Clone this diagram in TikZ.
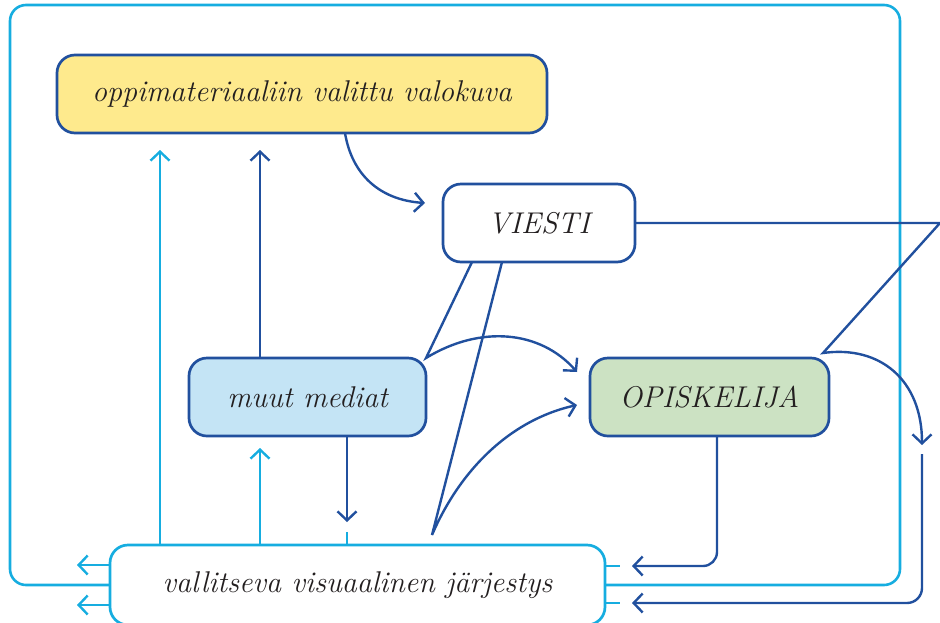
\documentclass[tikz,border=0pt]{standalone}
\usepackage{tikz}
\usetikzlibrary{arrows.meta}
\definecolor{tummasini}{RGB}{33,80,158}
\definecolor{syaani}{RGB}{22,173,224}
\definecolor{keltainen}{RGB}{254,234,141}
\definecolor{vaaleansini}{RGB}{196,228,245}
\definecolor{vihrea}{RGB}{204,226,195}
\definecolor{teksti}{RGB}{35,31,32}

\begin{document}
\begin{tikzpicture}[x=1pt,y=-1pt,
  laatikko/.style={draw=tummasini,line width=2.7pt,rounded corners=18pt,minimum height=78pt,outer sep=0pt,text=teksti,font=\fontsize{30}{35}\selectfont\itshape},
  tumma/.style={draw=tummasini,line width=2.4pt,-{Straight Barb[length=9pt,width=19pt]}},
  vaalea/.style={draw=syaani,line width=2.4pt,-{Straight Barb[length=9pt,width=19pt]}}]
\useasboundingbox (0,0) rectangle (940,622);
\draw[syaani,line width=2.6pt,rounded corners=16pt] (10,5) rectangle (900,585);

\node[laatikko,fill=keltainen,minimum width=490pt] (valokuva) at (302,94) {oppimateriaaliin valittu valokuva};
\node[laatikko,fill=white,minimum width=192pt] (viesti) at (539,223) {VIESTI};
\node[laatikko,fill=vaaleansini,minimum width=237pt] (mediat) at (307.5,397) {muut mediat};
\node[laatikko,fill=vihrea,minimum width=239pt] (opiskelija) at (709.5,397) {OPISKELIJA};
\node[laatikko,draw=syaani,fill=white,minimum width=495pt,minimum height=80pt] (jarjestys) at (357.5,585) {vallitseva visuaalinen järjestys};
\coordinate (kulma) at (940,223);
\coordinate (pudotus) at (922,445);

\draw[tumma] ([xshift=43pt]valokuva.south) .. controls (352,175) and (380,200) .. ([xshift=-18pt,yshift=20pt]viesti.west);
\draw[vaalea] ([xshift=50pt]jarjestys.north west) -- ++(0,-395);
\draw[tumma] ([xshift=-47.5pt]mediat.north) -- ++(0,-208);
\draw[vaalea] ([xshift=150pt]jarjestys.north west) -- ([xshift=-47.5pt,yshift=-12pt]mediat.south);
\draw[tumma] ([xshift=39.5pt]mediat.south) -- ++(0,86);
\draw[vaalea,-] ([xshift=-10.5pt]jarjestys.north) -- ++(0,-13);

\draw[tumma] ([xshift=-67pt]viesti.south) -- (mediat.north east) .. controls (480,325) and (540,330) .. ([xshift=-13pt,yshift=25pt]opiskelija.west);
\draw[tumma] ([xshift=-37pt]viesti.south) -- ([xshift=74.5pt,yshift=10pt]jarjestys.north) .. controls (460,470) and (510,420) .. ([xshift=-13pt,yshift=-8pt]opiskelija.west);
\draw[tumma] (viesti.east) -- (kulma) -- ([xshift=-6pt,yshift=5pt]opiskelija.north east) .. controls (880,345) and (922,380) .. (pudotus);
\draw[tumma,rounded corners=15pt] ([yshift=-9pt]pudotus) |- ([xshift=27pt,yshift=-18pt]jarjestys.east);
\draw[tumma,rounded corners=14pt] ([xshift=7.5pt]opiskelija.south) |- ([xshift=27pt,yshift=19pt]jarjestys.east);

\draw[vaalea,-] ([yshift=19pt]jarjestys.east) -- ++(15,0);
\draw[vaalea,-] ([yshift=-18pt]jarjestys.east) -- ++(15,0);
\draw[vaalea] ([yshift=20pt]jarjestys.west) -- ++(-33,0);
\draw[vaalea] ([yshift=-20pt]jarjestys.west) -- ++(-33,0);
\end{tikzpicture}
\end{document}
